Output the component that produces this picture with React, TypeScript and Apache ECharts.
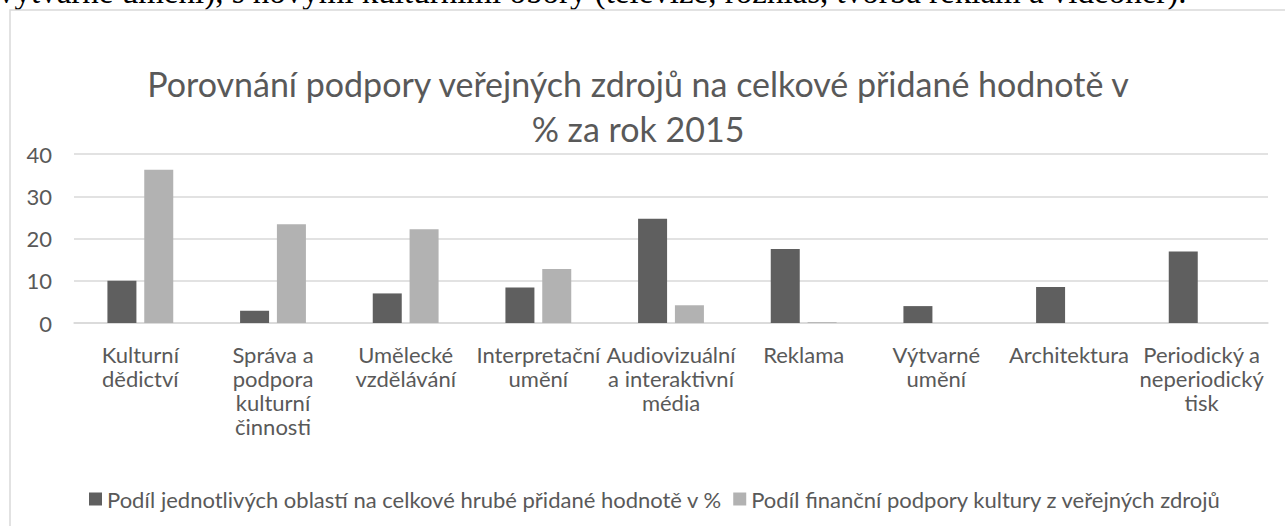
import React, { useEffect, useRef } from "react";
import * as echarts from "echarts";

const categories = [
  "Kulturní\ndědictví",
  "Správa a\npodpora\nkulturní\nčinnosti",
  "Umělecké\nvzdělávání",
  "Interpretační\numění",
  "Audiovizuální\na interaktivní\nmédia",
  "Reklama",
  "Výtvarné\numění",
  "Architektura",
  "Periodický a\nneperiodický\ntisk",
];

const seriesNames = [
  "Podíl jednotlivých oblastí na celkové hrubé přidané hodnotě v %",
  "Podíl finanční podpory kultury z veřejných zdrojů",
];

const grossValueShare = [10.0, 2.9, 7.0, 8.4, 24.7, 17.5, 4.0, 8.5, 16.9];
const publicSupportShare = [36.3, 23.4, 22.2, 12.8, 4.2, 0.2, 0, 0, 0];

const yTicks = { min: 0, max: 40, interval: 10 };

const titleText = "Porovnání podpory veřejných zdrojů na celkové přidané hodnotě v\n% za rok 2015";
const topLineText = "výtvarné umění), s novými kulturními obory (televize, rozhlas, tvorba reklam a videoher).";

const FONT = "Lato";
const TXT = "#595959";

export default function App() {
  const ref = useRef<HTMLDivElement>(null);
  useEffect(() => {
    if (!ref.current) return;
    const chart = echarts.init(ref.current, undefined, { renderer: "svg" });
    chart.setOption({
      animation: false,
      backgroundColor: "#ffffff",
      textStyle: { fontFamily: FONT },
      graphic: [
        {
          type: "text",
          x: -2,
          y: -8,
          style: {
            text: topLineText,
            font: "33px 'Liberation Serif'",
            fill: "#000000",
            verticalAlign: "middle",
          },
          z: 1,
        },
        {
          type: "rect",
          shape: { x: 10, y: 10, width: 1300, height: 540 },
          style: { fill: "none", stroke: "#d9d9d9", lineWidth: 1.5 },
          z: 2,
        },
        {
          type: "text",
          x: 638,
          y: 61,
          style: {
            text: titleText,
            fontFamily: FONT,
            fontSize: 34,
            lineHeight: 45,
            fill: TXT,
            align: "center",
          },
        },
      ],
      legend: {
        left: 84,
        top: 482,
        icon: "rect",
        itemWidth: 13,
        itemHeight: 13,
        itemGap: 11,
        textStyle: { color: TXT, fontSize: 22, lineHeight: 24, fontFamily: FONT },
        data: seriesNames,
      },
      grid: { left: 74, right: 17, top: 154, bottom: 203, containLabel: false },
      xAxis: {
        type: "category",
        data: categories,
        axisLine: { lineStyle: { color: "#d9d9d9", width: 1.5 } },
        axisTick: { show: false },
        axisLabel: {
          interval: 0,
          color: TXT,
          fontSize: 22,
          lineHeight: 24,
          margin: 19,
          align: "center",
          hideOverlap: false,
          fontFamily: FONT,
        },
      },
      yAxis: {
        type: "value",
        min: yTicks.min,
        max: yTicks.max,
        interval: yTicks.interval,
        axisLine: { show: false },
        axisTick: { show: false },
        splitLine: { lineStyle: { color: "#d9d9d9", width: 1.5 } },
        axisLabel: { color: TXT, fontSize: 22, margin: 22, fontFamily: FONT },
      },
      series: [
        {
          name: seriesNames[0],
          type: "bar",
          data: grossValueShare,
          barWidth: 29,
          barGap: "27%",
          itemStyle: { color: "#5f5f5f" },
        },
        {
          name: seriesNames[1],
          type: "bar",
          data: publicSupportShare,
          barWidth: 29,
          itemStyle: { color: "#b2b2b2" },
        },
      ],
    });
    return () => chart.dispose();
  }, []);
  return (
    <div
      ref={ref}
      style={{ position: "fixed", left: 0, top: 0, width: 1285, height: 526 }}
    />
  );
}
